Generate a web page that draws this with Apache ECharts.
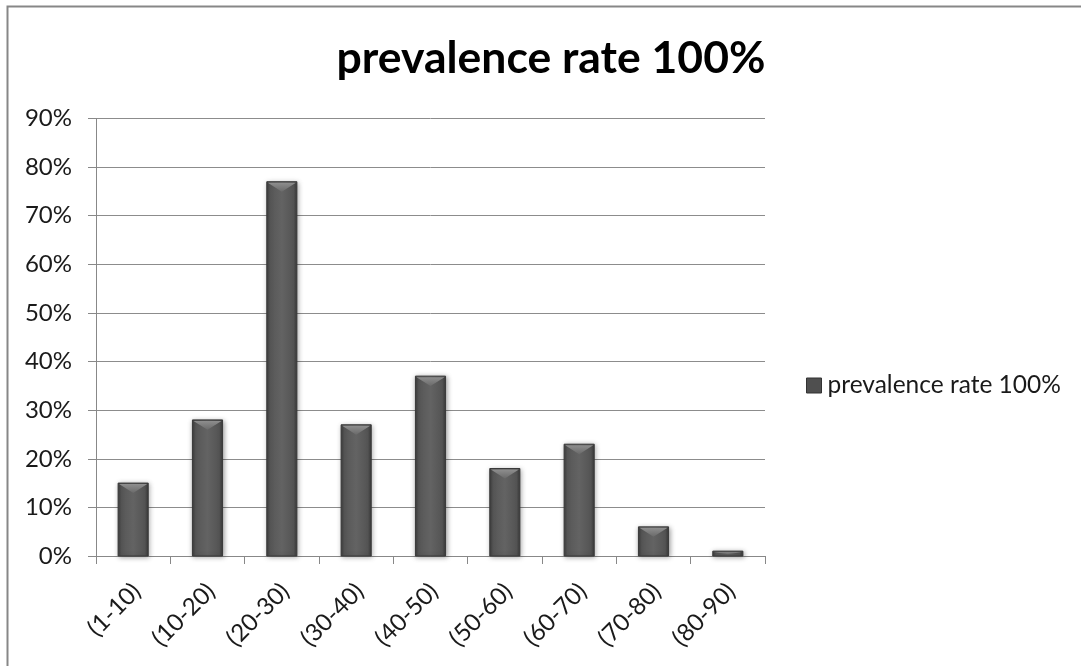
<!DOCTYPE html>
<html>
<head>
<meta charset="utf-8">
<title>prevalence rate 100%</title>
<script src="https://cdn.jsdelivr.net/npm/echarts@6/dist/echarts.min.js"></script>
<style>
  html, body { margin: 0; padding: 0; background: #ffffff; }
  #chart { width: 1081px; height: 666px; }
</style>
</head>
<body>
<div id="chart"></div>
<script>
// Age groups and prevalence (percent)
const ageGroups = ['(1-10)', '(10-20)', '(20-30)', '(30-40)', '(40-50)', '(50-60)', '(60-70)', '(70-80)', '(80-90)'];
const prevalence = [15, 28, 77, 27, 37, 18, 23, 6, 1];
const seriesName = 'prevalence rate 100%';
const yTicks = [0, 10, 20, 30, 40, 50, 60, 70, 80, 90];

const FONT = 'Lato, "Liberation Sans", sans-serif';

// Shaded body of each column: dark edges, slightly lighter middle
const bodyGrad = new echarts.graphic.LinearGradient(0, 0, 1, 0, [
  { offset: 0, color: '#3b3b3b' },
  { offset: 0.12, color: '#575757' },
  { offset: 0.5, color: '#636363' },
  { offset: 0.88, color: '#545454' },
  { offset: 1, color: '#383838' }
]);
// Bevelled top cap
const capGrad = new echarts.graphic.LinearGradient(0, 0, 0, 1, [
  { offset: 0, color: '#8e8e8e' },
  { offset: 1, color: '#6a6a6a' }
]);

function renderBar(params, api) {
  const idx = api.value(0);
  const val = api.value(1);
  const top = api.coord([idx, val]);
  const base = api.coord([idx, 0]);
  const bw = api.size([1, 0])[0] * 0.405;
  const x = top[0] - bw / 2;
  const h = base[1] - top[1];
  const capH = Math.min(bw * 0.33, h * 0.6);
  return {
    type: 'group',
    children: [
      {
        type: 'rect',
        shape: { x: x, y: top[1], width: bw, height: h },
        style: {
          fill: bodyGrad,
          stroke: '#3a3a3a',
          lineWidth: 1,
          shadowBlur: 5,
          shadowColor: 'rgba(0,0,0,0.35)',
          shadowOffsetX: 1,
          shadowOffsetY: 1
        }
      },
      {
        type: 'polygon',
        shape: { points: [[x + 1, top[1] + 1], [x + bw - 1, top[1] + 1], [x + bw / 2, top[1] + capH]] },
        style: { fill: capGrad }
      }
    ]
  };
}

const chart = echarts.init(document.getElementById('chart'), null, { renderer: 'canvas' });

chart.setOption({
  animation: false,
  backgroundColor: '#ffffff',
  title: {
    text: seriesName,
    left: 546,
    textAlign: 'center',
    top: 31,
    textStyle: { fontFamily: FONT, fontWeight: 'bold', fontSize: 44.5, color: '#000000' }
  },
  legend: {
    data: [{ name: seriesName, icon: 'rect', itemStyle: { color: '#4f4f4f', borderColor: '#333333', borderWidth: 1 } }],
    left: 801,
    top: 368,
    itemWidth: 15,
    itemHeight: 15,
    itemGap: 6,
    textStyle: { fontFamily: FONT, fontSize: 24.5, color: '#1a1a1a', padding: [0, 0, 0, 1] }
  },
  graphic: [{
    type: 'rect',
    silent: true,
    z: 100,
    shape: { x: 7.5, y: 6.5, width: 1100, height: 700 },
    style: { fill: 'none', stroke: '#878787', lineWidth: 2 }
  }],
  grid: { left: 96, right: 316, top: 118.5, bottom: 110, containLabel: false },
  xAxis: {
    type: 'category',
    data: ageGroups,
    boundaryGap: true,
    axisLine: { lineStyle: { color: '#888888', width: 1 } },
    axisTick: { show: true, length: 8, alignWithLabel: false, lineStyle: { color: '#888888' } },
    axisLabel: {
      rotate: 45, margin: 18, verticalAlign: 'top', padding: [0, 7, 0, 0],
      fontFamily: FONT, fontSize: 24, color: '#1a1a1a', interval: 0
    },
    splitLine: { show: false }
  },
  yAxis: {
    type: 'value',
    min: yTicks[0],
    max: yTicks[yTicks.length - 1],
    interval: 10,
    axisLine: { show: true, lineStyle: { color: '#888888', width: 1 } },
    axisTick: { show: true, length: 8, lineStyle: { color: '#888888' } },
    axisLabel: { formatter: '{value}%', margin: 24, fontFamily: FONT, fontSize: 24, color: '#1a1a1a' },
    splitLine: { show: true, lineStyle: { color: '#8c8c8c', width: 1 } }
  },
  series: [{
    name: seriesName,
    type: 'custom',
    renderItem: renderBar,
    encode: { x: 0, y: 1 },
    itemStyle: { color: '#4f4f4f' },
    data: prevalence.map((v, i) => [i, v])
  }]
});
</script>
</body>
</html>
